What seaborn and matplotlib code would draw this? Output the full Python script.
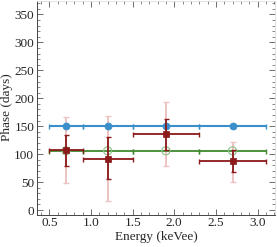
import numpy as np
import pandas as pd
import matplotlib
matplotlib.use("Agg")
import matplotlib.pyplot as plt
from matplotlib.ticker import MultipleLocator
import seaborn as sns

# --- data ---
energy = [0.7, 1.2, 1.9, 2.7]
e_lo = [0.5, 0.9, 1.5, 2.3]
e_hi = [0.9, 1.5, 2.3, 3.1]

phase_blue = [150, 150, 150, 150]
phase_green = [106, 106, 106, 106]

phase_red = [107, 91, 136, 88]
red_in_lo = [78, 56, 107, 68]
red_in_hi = [135, 130, 163, 107]
red_out_lo = [48, 17, 79, 51]
red_out_hi = [166, 168, 193, 122]

sns.set_style("ticks")
plt.rcParams['font.family'] = ['Liberation Serif', 'DejaVu Serif']
plt.rcParams['font.size'] = 9.5

fig = plt.figure(figsize=(2.77, 2.47), dpi=100)
ax = fig.add_axes([37 / 277, 1 - 214.5 / 247, (275 - 37) / 277, 214 / 247])

blue = '#3a8fcb'
green = '#3f8a2f'
red = '#8b1a1a'
pink = '#edc3c3'

x = np.array(energy)
xerr = [x - np.array(e_lo), np.array(e_hi) - x]

# outer (pale) errors for red series
yr = np.array(phase_red)
ax.errorbar(x, yr, yerr=[yr - np.array(red_out_lo), np.array(red_out_hi) - yr],
            fmt='none', ecolor=pink, elinewidth=1.4, capsize=2, capthick=1.0, zorder=1)

# blue
ax.errorbar(x, phase_blue, xerr=xerr, fmt='none', ecolor=blue, elinewidth=1.5,
            capsize=1.8, capthick=1.0, zorder=3)
sns.scatterplot(x=energy, y=phase_blue, ax=ax, color=blue, marker='o', s=26,
                edgecolor=blue, linewidth=0.5, zorder=4)

# green
ax.errorbar(x, phase_green, xerr=xerr, fmt='none', ecolor=green, elinewidth=1.3,
            capsize=1.8, capthick=1.0, zorder=3)
sns.scatterplot(x=energy, y=phase_green, ax=ax, marker='o', s=34,
                facecolor='none', edgecolor='#8cc088', linewidth=0.8, zorder=4)

# red inner
ax.errorbar(x, yr, xerr=xerr, yerr=[yr - np.array(red_in_lo), np.array(red_in_hi) - yr],
            fmt='none', ecolor=red, elinewidth=1.3, capsize=1.8, capthick=1.0, zorder=5)
sns.scatterplot(x=energy, y=phase_red, ax=ax, color=red, marker='s', s=20,
                edgecolor=red, linewidth=0.5, zorder=6)

ax.set_xlim(0.352, 3.21)
ax.set_ylim(-8, 375)
ax.xaxis.set_major_locator(MultipleLocator(0.5))
ax.xaxis.set_minor_locator(MultipleLocator(0.1))
ax.yaxis.set_major_locator(MultipleLocator(50))
ax.yaxis.set_minor_locator(MultipleLocator(10))
ax.tick_params(which='both', direction='in', top=True, right=True, labelsize=9.5,
               color='#555555', pad=2)
ax.tick_params(which='major', length=4, width=0.6)
ax.tick_params(which='minor', length=2, width=0.5)
ax.tick_params(which='both', labeltop=False, labelright=False)
for s in ['left', 'bottom']:
    ax.spines[s].set_color('#444444')
    ax.spines[s].set_linewidth(0.7)
for s in ['top', 'right']:
    ax.spines[s].set_color('#dddddd')
    ax.spines[s].set_linewidth(0.6)

ax.set_xlabel('Energy (keVee)', fontsize=9.5, labelpad=1)
ax.set_ylabel('Phase (days)', fontsize=9.5, labelpad=1)

fig.savefig('out.png', dpi=100)
